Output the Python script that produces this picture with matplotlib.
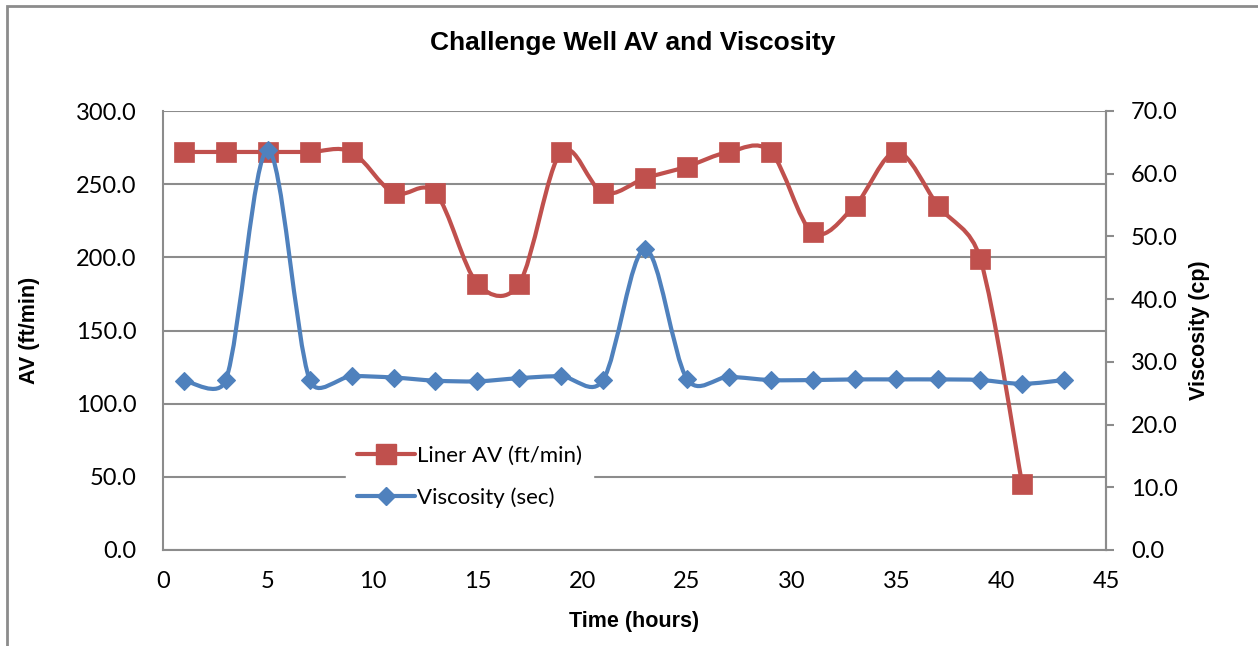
import numpy as np
import matplotlib
matplotlib.use("Agg")
import matplotlib.pyplot as plt
from matplotlib.path import Path
from matplotlib.patches import PathPatch, Rectangle
from matplotlib.lines import Line2D

# data
hours_av = [1, 3, 5, 7, 9, 11, 13, 15, 17, 19, 21, 23, 25, 27, 29, 31, 33, 35, 37, 39, 41]
liner_av = [272, 272, 272, 272, 272, 244, 244, 182, 182, 272, 244, 254, 262, 272, 272,
            217, 235, 272, 235, 199, 45]

hours_visc = [1, 3, 5, 7, 9, 11, 13, 15, 17, 19, 21, 23, 25, 27, 29, 31, 33, 35, 37, 39, 41, 43]
viscosity = [27.0, 27.1, 63.8, 27.1, 27.7, 27.5, 27.0, 26.9, 27.4, 27.7, 27.1, 48.0, 27.3,
             27.6, 27.1, 27.1, 27.2, 27.2, 27.2, 27.1, 26.5, 27.1]

av_ticks = [0, 50, 100, 150, 200, 250, 300]
visc_ticks = [0, 10, 20, 30, 40, 50, 60, 70]
time_ticks = [0, 5, 10, 15, 20, 25, 30, 35, 40, 45]

RED = "#C0504D"
BLUE = "#4F81BD"
GREY = "#8C8C8C"
TICK_FONT = "Lato"
BOLD_FONT = "Liberation Sans"


def smooth_path(ax, x, y):
    # Excel-like smoothed line: Bezier segments, control points at 1/6 of the
    # tangent, capped to half the segment length (worked out in screen space)
    tr = ax.transData
    p = tr.transform(np.column_stack([x, y]).astype(float))
    n = len(p)
    verts = [p[0]]
    for i in range(n - 1):
        p0 = p[i - 1] if i > 0 else p[i]
        p1 = p[i]
        p2 = p[i + 1]
        p3 = p[i + 2] if i + 2 < n else p[i + 1]
        d12 = np.hypot(*(p2 - p1))
        d02 = np.hypot(*(p2 - p0))
        d13 = np.hypot(*(p3 - p1))
        f1 = d12 / d02 / 2 if d02 / 6 >= d12 / 2 and d02 > 0 else 1 / 6
        f2 = d12 / d13 / 2 if d13 / 6 >= d12 / 2 and d13 > 0 else 1 / 6
        verts += [p1 + (p2 - p0) * f1, p2 - (p3 - p1) * f2, p2]
    verts = tr.inverted().transform(np.array(verts))
    codes = [Path.MOVETO] + [Path.CURVE4] * (len(verts) - 1)
    return Path(verts, codes)


fig = plt.figure(figsize=(12.58, 6.46), dpi=100)
ax = fig.add_axes([163 / 1258, 1 - 550 / 646, 943 / 1258, 439 / 646])
ax2 = ax.twinx()

ax.set_xlim(0, 45)
ax.set_ylim(0, 300)
ax2.set_ylim(0, 70)

# primary axis: liner AV
ax.add_patch(PathPatch(smooth_path(ax, hours_av, liner_av), fill=False,
                       edgecolor=RED, lw=3.0, capstyle="round", joinstyle="round", zorder=3))
ax.plot(hours_av, liner_av, linestyle="none", marker="s", markersize=14.5,
        markerfacecolor=RED, markeredgecolor=RED, markeredgewidth=0.5, zorder=4)

# secondary axis: viscosity
ax2.add_patch(PathPatch(smooth_path(ax2, hours_visc, viscosity), fill=False,
                        edgecolor=BLUE, lw=3.0, capstyle="round", joinstyle="round", zorder=3))
ax2.plot(hours_visc, viscosity, linestyle="none", marker="D", markersize=9.5,
         markerfacecolor=BLUE, markeredgecolor=BLUE, markeredgewidth=0.8, zorder=4)

ax.set_xticks(time_ticks)
ax.set_xticklabels([str(t) for t in time_ticks], fontfamily=TICK_FONT, fontsize=17)
ax.set_yticks(av_ticks)
ax.set_yticklabels([f"{v:.1f}" for v in av_ticks], fontfamily=TICK_FONT, fontsize=17)
ax2.set_yticks(visc_ticks)
ax2.set_yticklabels([f"{v:.1f}" for v in visc_ticks], fontfamily=TICK_FONT, fontsize=17)

ax.tick_params(axis="x", length=0, pad=15, colors="black")
ax.tick_params(axis="y", length=0, pad=19, colors="black")
ax2.tick_params(axis="y", length=6, width=1.5, color=GREY, direction="out", pad=12)

ax.grid(axis="y", color=GREY, linewidth=1.5)
ax.set_axisbelow(True)

for a in (ax, ax2):
    for side in ("left", "bottom", "right"):
        a.spines[side].set_color(GREY)
        a.spines[side].set_linewidth(1.5)
    a.spines["top"].set_visible(False)
ax2.spines["left"].set_visible(False)
ax2.spines["bottom"].set_visible(False)

lab = dict(fontfamily=BOLD_FONT, fontweight="bold", fontsize=15.5, ha="center", va="center")
ax.set_xlabel("Time (hours)", **lab)
ax.set_ylabel("AV (ft/min)", **lab)
ax2.set_ylabel("Viscosity (cp)", **lab)
ax.xaxis.set_label_coords(0.5, (550 - 621) / 439)
ax.yaxis.set_label_coords((30 - 163) / 943, 0.5)
ax2.yaxis.set_label_coords((1200 - 163) / 943, 0.5)

fig.text(633 / 1258, 1 - 43 / 646, "Challenge Well AV and Viscosity", ha="center", va="center",
         fontfamily=BOLD_FONT, fontweight="bold", fontsize=19)

handles = [
    Line2D([], [], color=RED, lw=3.0, marker="s", markersize=14.5, markerfacecolor=RED,
           markeredgecolor=RED, solid_capstyle="round"),
    Line2D([], [], color=BLUE, lw=3.0, marker="D", markersize=9.5, markerfacecolor=BLUE,
           markeredgecolor=BLUE, solid_capstyle="round"),
]
leg = ax2.legend(handles, ["Liner AV (ft/min)", "Viscosity (sec)"], loc="center",
                 bbox_to_anchor=(0.325, 0.167), frameon=True, fancybox=False,
                 prop={"family": TICK_FONT, "size": 16}, handlelength=2.6, handletextpad=0.1,
                 labelspacing=0.95, borderpad=0.5)
leg.get_frame().set_edgecolor("white")
leg.get_frame().set_facecolor("white")
leg.get_frame().set_alpha(1.0)

# outer chart border
fig.patches.append(Rectangle((7 / 1258, -0.1), 1.2, 1 - 6 / 646 + 0.1, transform=fig.transFigure,
                             fill=False, edgecolor=GREY, linewidth=2.0, zorder=0))

fig.savefig("out.png", dpi=100)
